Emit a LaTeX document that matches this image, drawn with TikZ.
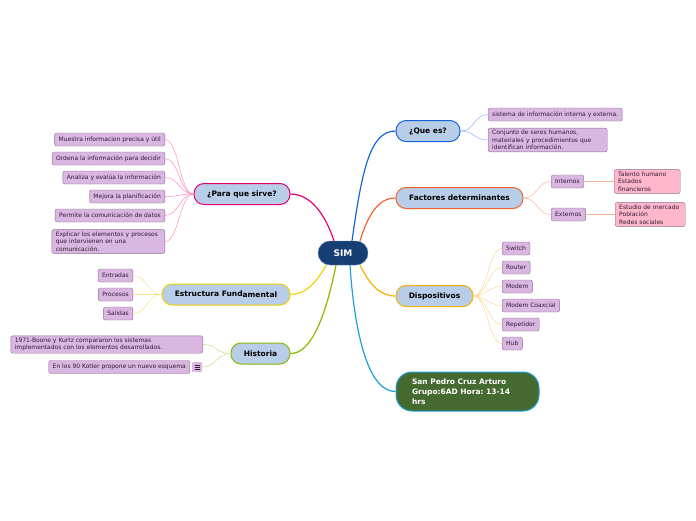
\documentclass[tikz,border=0pt]{standalone}
\usepackage{fontspec}
\setmainfont{DejaVu Sans}
\frenchspacing
\definecolor{topicfill}{HTML}{B8CDE8}
\definecolor{leaffill}{HTML}{DAB7E0}
\definecolor{leafline}{HTML}{8C6C94}
\definecolor{leaftext}{HTML}{2E1A36}
\definecolor{pinkfill}{HTML}{FFB7CB}
\definecolor{simfill}{HTML}{173F73}
\definecolor{simline}{HTML}{5A86C0}
\definecolor{autorfill}{HTML}{456A30}
\definecolor{autorline}{HTML}{1BA0DC}
\definecolor{queblue}{HTML}{1565D8}
\definecolor{factred}{HTML}{F26230}
\definecolor{dispyel}{HTML}{F7B000}
\definecolor{parapink}{HTML}{E5006F}
\definecolor{estyel}{HTML}{F0D000}
\definecolor{histgreen}{HTML}{8CB800}
\definecolor{quetwig}{HTML}{8AB4F0}
\definecolor{factwig}{HTML}{F8B49A}
\definecolor{distwig}{HTML}{FCD68C}
\definecolor{paratwig}{HTML}{FF8CC0}
\definecolor{esttwig}{HTML}{F2E48A}
\definecolor{histwig}{HTML}{C6DC7C}
\begin{document}
\begin{tikzpicture}[x=1pt,y=-1pt,
    topic/.style={draw,line width=1pt,fill=topicfill,rounded corners=10pt,minimum height=21pt,
        inner xsep=6pt,font=\fontsize{7.5}{9}\selectfont\bfseries},
    leaf/.style={draw=leafline,fill=leaffill,rounded corners=2pt,minimum height=13pt,inner xsep=4pt,
        inner ysep=2pt,align=left,text=leaftext,font=\fontsize{6}{7.6}\selectfont},
    pinkleaf/.style={leaf,fill=pinkfill},
    branch/.style={line width=1.2pt},
    twig/.style={line width=0.5pt}]
    \useasboundingbox (0,0) rectangle (696,520);

    % centro
    \node[draw=simline,fill=simfill,text=white,rounded corners=12pt,minimum width=50pt,minimum height=24pt,
        font=\fontsize{9}{10}\selectfont\bfseries] (sim) at (343,253) {SIM};

    % temas principales
    \node[topic,draw=queblue,minimum width=64pt] (que) at (428,131) {¿Que es?};
    \node[topic,draw=factred,minimum width=127pt] (fac) at (459.5,198) {Factores determinantes};
    \node[topic,draw=dispyel,minimum width=77pt] (dis) at (434.5,296) {Dispositivos};
    \node[topic,draw=parapink,minimum width=96pt] (para) at (242,194) {¿Para que sirve?};
    \node[topic,draw=estyel,minimum width=128pt] (est) at (226,294.5) {Estructura Fund\raisebox{-0.8pt}{amental}};
    \node[topic,draw=histgreen,minimum width=59pt] (his) at (260.5,353.5) {Historia};
    \node[draw=autorline,line width=1pt,fill=autorfill,text=white,rounded corners=16pt,
        minimum height=39pt,text width=111pt,inner xsep=16pt,align=left,
        font=\fontsize{7.5}{10}\selectfont\bfseries] (autor) at (467.5,391.5)
        {San Pedro Cruz Arturo\\Grupo:6AD Hora: 13-14\\hrs};

    % ramas
    \draw[branch,queblue] ([xshift=9pt]sim.north) .. controls (362,170) and (370,131) .. (que.west);
    \draw[branch,factred] ([xshift=17pt]sim.north) .. controls (368,215) and (378,198) .. (fac.west);
    \draw[branch,dispyel] ([xshift=17pt]sim.south) .. controls (370,285) and (380,296) .. (dis.west);
    \draw[branch,autorline] ([xshift=7pt]sim.south) .. controls (355,340) and (370,392) .. (autor.west);
    \draw[branch,parapink] ([xshift=-9pt]sim.north) .. controls (322,205) and (305,194) .. (para.east);
    \draw[branch,estyel] ([xshift=-17pt]sim.south) .. controls (315,285) and (305,294) .. (est.east);
    \draw[branch,histgreen] ([xshift=-7pt]sim.south) .. controls (325,320) and (310,354) .. (his.east);

    % ¿Que es?
    \node[leaf,anchor=west] (q1) at (488,114.5) {sistema de información interna y externa.};
    \node[leaf,anchor=west,text width=111pt] (q2) at (488,140) {Conjunto de seres humanos,\\materiales y procedimientos que\\identifican información.};
    \foreach \n in {q1,q2}
        \draw[twig,quetwig] (que.east) .. controls +(14,0) and +(-14,0) .. (\n.west);

    % Factores determinantes
    \node[leaf,anchor=west] (int) at (551,181.5) {Internos};
    \node[leaf,anchor=west] (ext) at (551,214.5) {Externos};
    \node[pinkleaf,anchor=west,text width=58pt] (tal) at (614,181.5) {Talento humano\\Estados\\financieros};
    \node[pinkleaf,anchor=west,text width=62pt] (estu) at (615,214.5) {Estudio de mercado\\Población\\Redes sociales};
    \foreach \n in {int,ext}
        \draw[twig,factwig] (fac.east) .. controls +(14,0) and +(-14,0) .. (\n.west);
    \draw[twig,factwig] (int.east) -- (tal.west);
    \draw[twig,factwig] (ext.east) -- (estu.west);

    % Dispositivos
    \foreach \t [count=\i] in {Switch,Router,Modem,Modem Coaxcial,Repetidor,Hub}
        {
            \node[leaf,anchor=west] (d\i) at (502,229.5+19*\i) {\t};
            \draw[twig,distwig] (dis.east) .. controls +(14,0) and +(-14,0) .. (d\i.west);
        }

    % ¿Para que sirve?
    \foreach \t [count=\i] in {Muestra informacion precisa y útil,Ordena la información para decidir,
        Analiza y evalúa la información,Mejora la planificación,Permite la comunicación de datos}
        \node[leaf,anchor=east] (p\i) at (165,120.5+19*\i) {\t};
    \node[leaf,anchor=east,text width=105pt] (p6) at (165,241.5) {Explicar los elementos y procesos\\que intervienen en una\\comunicación.};
    \foreach \i in {1,...,6}
        \draw[twig,paratwig] (para.west) .. controls +(-14,0) and +(14,0) .. (p\i.east);

    % Estructura Fundamental
    \foreach \t [count=\i] in {Entradas,Procesos,Salidas}
        {
            \node[leaf,anchor=east] (e\i) at (133,256.5+19*\i) {\t};
            \draw[twig,esttwig] (est.west) .. controls +(-14,0) and +(14,0) .. (e\i.east);
        }

    % Historia
    \node[leaf,anchor=east,text width=184pt] (h1) at (203,344.5) {1971-Boone y Kurtz compararon los sistemas\\implementados con los elementos desarrollados.};
    \node[leaf,anchor=east] (h2) at (190,367) {En los 90 Kotler propone un nuevo esquema};
    \node[fill=leaffill,rounded corners=1pt,minimum size=10pt,inner sep=0pt] (nota) at (197,367) {};
    \foreach \y in {-2,0,2}
        \draw[leaftext,line width=0.5pt] ([xshift=-2.5pt,yshift=\y pt]nota.center) -- ([xshift=2.5pt,yshift=\y pt]nota.center);
    \draw[twig,histwig] (his.west) .. controls +(-14,0) and +(14,0) .. (h1.east);
    \draw[twig,histwig] (his.west) .. controls +(-14,0) and +(14,0) .. (nota.east);
\end{tikzpicture}
\end{document}
